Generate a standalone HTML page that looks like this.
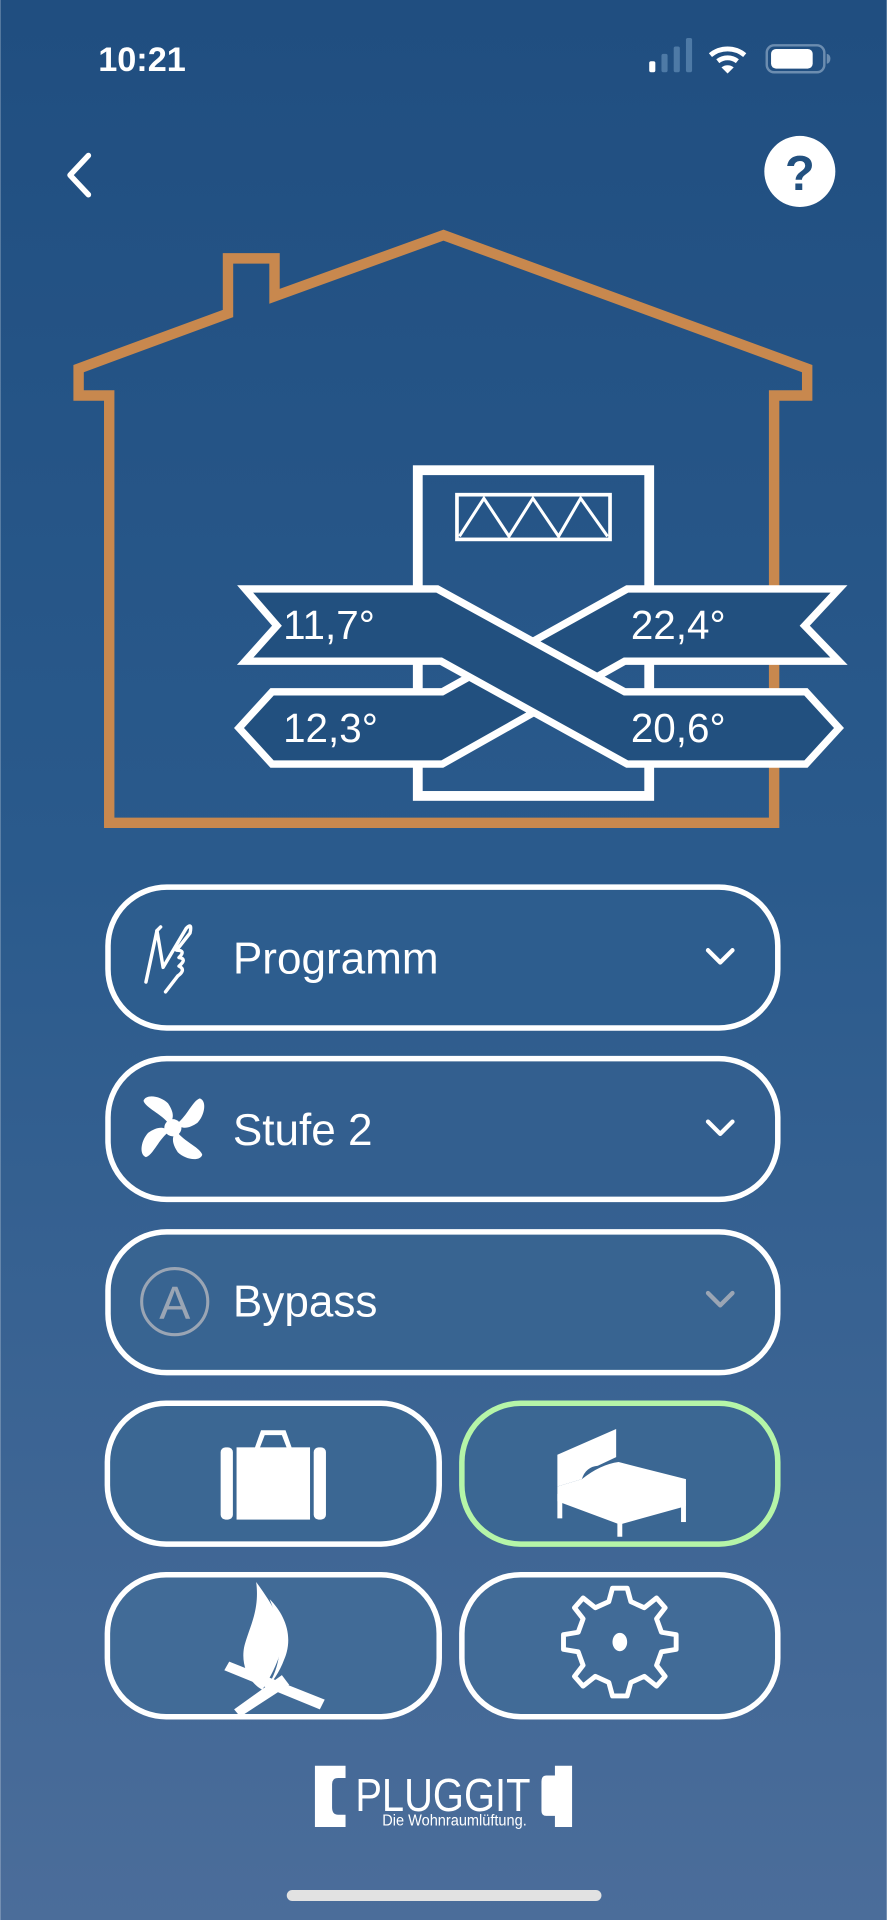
<!DOCTYPE html>
<html><head><meta charset="utf-8">
<style>
html,body{margin:0;padding:0;width:887px;height:1920px;overflow:hidden;}
svg{display:block;}
text{font-family:"Liberation Sans",sans-serif;}
</style></head>
<body>
<svg width="887" height="1920" viewBox="0 0 724 1568" xmlns="http://www.w3.org/2000/svg">
<defs>
<linearGradient id="bg" x1="0" y1="0" x2="0" y2="1">
<stop offset="0" stop-color="#204e80"/>
<stop offset="0.45" stop-color="#2a5a8c"/>
<stop offset="1" stop-color="#4b6d9a"/>
</linearGradient>
</defs>
<rect width="724" height="1568" fill="url(#bg)"/>

<!-- status bar -->
<text x="80" y="58" font-size="28" font-weight="bold" fill="#fff">10:21</text>
<rect x="530" y="50" width="5" height="9" rx="1.5" fill="#fff"/>
<rect x="540" y="44" width="5" height="15" rx="1.5" fill="#4e7aa6"/>
<rect x="550" y="38" width="5" height="21" rx="1.5" fill="#4e7aa6"/>
<rect x="560" y="31" width="5" height="28" rx="1.5" fill="#4e7aa6"/>
<path d="M580 45 A22 22 0 0 1 608 45" stroke="#fff" stroke-width="4" fill="none"/>
<path d="M586 50 A13 13 0 0 1 602 50" stroke="#fff" stroke-width="4" fill="none"/>
<path d="M589 55 L594 60 L599 55 A8 8 0 0 0 589 55Z" fill="#fff"/>
<rect x="626" y="37" width="47" height="22" rx="6" fill="none" stroke="#6c8db0" stroke-width="2"/>
<rect x="629.5" y="40" width="34" height="16" rx="4" fill="#fff"/>
<path d="M675 44 a3 4 0 0 1 0 8z" fill="#6c8db0"/>

<!-- nav -->
<polyline points="72,127 57,143 72,159" fill="none" stroke="#fff" stroke-width="4.5" stroke-linecap="round" stroke-linejoin="round"/>
<circle cx="653" cy="140" r="29" fill="#fff"/>
<text x="653" y="155" font-size="40" font-weight="bold" fill="#22507f" text-anchor="middle">?</text>

<!-- house -->
<polygon points="64,301 186,256 186,211 224,211 224,242 362,192 659,301 659,323 632,323 632,672 89,672 89,323 64,323" fill="none" stroke="#c8884e" stroke-width="8.5" stroke-linejoin="miter"/>

<!-- unit -->
<rect x="341" y="384" width="189" height="266" fill="none" stroke="#fff" stroke-width="8"/>
<rect x="373" y="404" width="125" height="36.5" fill="none" stroke="#fff" stroke-width="3"/>
<polyline points="375,438 395,407 415.5,438 435,407 456,438 474,407 496,438" fill="none" stroke="#fff" stroke-width="2.5"/>

<!-- band B (behind) -->
<polygon points="512,481 685,481 657,511 685,540 510,540 361,624 222,624 195,594.5 222,565 361,565" fill="#22507f" stroke="#fff" stroke-width="6" stroke-linejoin="miter"/>
<!-- band A (front) -->
<polygon points="200,481 357,481 510,565 658,565 685,594.5 658,624 512,624 360,540 200,540 226,511" fill="#22507f" stroke="#fff" stroke-width="6" stroke-linejoin="miter"/>

<text x="231" y="522" font-size="33" fill="#fff">11,7°</text>
<text x="515" y="522" font-size="33" fill="#fff">22,4°</text>
<text x="231" y="606" font-size="33" fill="#fff">12,3°</text>
<text x="515" y="606" font-size="33" fill="#fff">20,6°</text>

<!-- dropdown buttons -->
<g fill="none" stroke="#fff" stroke-width="4.5">
<rect x="88" y="724.5" width="547" height="115" rx="48" fill="#2d5d8e"/>
<rect x="88" y="864.5" width="547" height="115" rx="48" fill="#335f8f"/>
<rect x="88" y="1006" width="547" height="115" rx="48" fill="#386491"/>
</g>
<text x="190" y="795" font-size="36" fill="#fff">Programm</text>
<text x="190" y="935" font-size="36" fill="#fff">Stufe 2</text>
<text x="190" y="1075" font-size="36" fill="#fff">Bypass</text>
<polyline points="578,776 588,786 598,776" fill="none" stroke="#fff" stroke-width="3.5" stroke-linecap="round" stroke-linejoin="round"/>
<polyline points="578,916 588,926 598,916" fill="none" stroke="#fff" stroke-width="3.5" stroke-linecap="round" stroke-linejoin="round"/>
<polyline points="578,1056 588,1066 598,1056" fill="none" stroke="#9aa5b4" stroke-width="3.5" stroke-linecap="round" stroke-linejoin="round"/>

<!-- hand icon -->
<g fill="none" stroke="#fff" stroke-width="2.8" stroke-linecap="round" stroke-linejoin="round">
<path d="M119 802 L128 760 L133 790 L152 758 Q157 753 155 762 L144 776 Q152 776 146 782 Q153 783 146 789 Q152 792 145 797 L135 810"/>
<path d="M128 760 L131 757"/>
</g>
<!-- fan icon -->
<g fill="#fff" transform="translate(141,921)">
<path d="M-3,-3 C-10,-12 -22,-16 -24,-22 C-22,-28 -10,-26 -4,-20 C0,-14 2,-8 -3,-3Z"/>
<path d="M-3,-3 C-10,-12 -22,-16 -24,-22 C-22,-28 -10,-26 -4,-20 C0,-14 2,-8 -3,-3Z" transform="rotate(90)"/>
<path d="M-3,-3 C-10,-12 -22,-16 -24,-22 C-22,-28 -10,-26 -4,-20 C0,-14 2,-8 -3,-3Z" transform="rotate(180)"/>
<path d="M-3,-3 C-10,-12 -22,-16 -24,-22 C-22,-28 -10,-26 -4,-20 C0,-14 2,-8 -3,-3Z" transform="rotate(270)"/>
<circle r="7"/>
</g>
<!-- A icon -->
<circle cx="142.5" cy="1063" r="27" fill="none" stroke="#9aa5b4" stroke-width="2.5"/>
<text x="142.5" y="1077" font-size="38" fill="#9aa5b4" text-anchor="middle">A</text>

<!-- square buttons -->
<g fill="none" stroke-width="4.5">
<rect x="87.5" y="1146" width="271" height="115" rx="48" stroke="#fff" fill="#3b6793"/>
<rect x="377" y="1146" width="258" height="115" rx="48" stroke="#b5f5a8" fill="#3b6793"/>
<rect x="87.5" y="1286" width="271" height="116" rx="48" stroke="#fff" fill="#416b97"/>
<rect x="377" y="1286" width="258" height="116" rx="48" stroke="#fff" fill="#416b97"/>
</g>
<!-- suitcase -->
<g fill="#fff">
<path d="M207 1185 L213 1168 L233 1168 L239 1185 L235 1185 L230 1172 L216 1172 L211 1185Z"/>
<rect x="180" y="1182" width="10" height="59" rx="4"/>
<rect x="193" y="1182" width="60" height="59"/>
<rect x="256" y="1182" width="10" height="59" rx="4"/>
</g>
<!-- bed -->
<g fill="#fff">
<path d="M455 1188 L503 1167 L503 1190 L488 1197 Q478 1198 475 1208 L455 1214Z"/>
<path d="M455 1214 L475 1208 Q490 1196 505 1194 L560 1208 L560 1230 L506 1245 L455 1226Z"/>
<rect x="455" y="1220" width="4" height="20"/>
<rect x="556" y="1225" width="4" height="18"/>
<rect x="504" y="1240" width="4" height="15"/>
</g>
<!-- fire -->
<g fill="#fff">
<path d="M209 1292 C222 1310 236 1330 228 1352 C224 1364 218 1374 214 1380 C200 1372 196 1355 200 1342 C204 1328 212 1314 209 1292Z"/>
<path d="M220 1306 C232 1318 240 1336 232 1355 C228 1366 222 1374 218 1378 C228 1362 234 1340 220 1306Z"/>
<path d="M183 1374 L187 1367 L265 1398 L261 1406Z" transform="translate(0,-10)"/>
<path d="M191 1396 L230 1368 L236 1376 L196 1402Z"/>
</g>
<!-- gear -->
<g transform="translate(506,1341)">
<path id="g" fill="none" stroke="#fff" stroke-width="4" stroke-linejoin="round"
d="M-6,-44 L6,-44 L9,-33 L20,-28 L30,-36 L37,-28 L30,-19 L34,-8 L46,-6 L46,6 L34,8 L30,19 L37,28 L30,36 L20,28 L9,33 L6,44 L-6,44 L-9,33 L-20,28 L-30,36 L-37,28 L-30,19 L-34,8 L-46,6 L-46,-6 L-34,-8 L-30,-19 L-37,-28 L-30,-36 L-20,-28 L-9,-33Z"/>
<ellipse cx="0" cy="0" rx="6" ry="7.5" fill="#fff"/>
</g>

<!-- logo -->
<path d="M257 1442 L282 1442 L282 1452 L276 1452 Q271 1452 271 1457 L271 1476 Q271 1482 276 1482 L282 1482 L282 1492 L257 1492Z" fill="#fff"/>
<text x="290" y="1479" font-size="38" fill="#fff" textLength="143" lengthAdjust="spacingAndGlyphs">PLUGGIT</text>
<path d="M467 1442 L453 1442 L453 1450 L446 1450 Q442 1450 442 1455 L442 1479 Q442 1483 446 1483 L453 1483 L453 1492 L467 1492Z" fill="#fff"/>
<text x="312" y="1491" font-size="12.5" fill="#fff" textLength="118" lengthAdjust="spacingAndGlyphs">Die Wohnraumlüftung.</text>

<rect x="234" y="1543.5" width="257" height="9" rx="4.5" fill="#e2e2e2"/>
</svg>
</body></html>
